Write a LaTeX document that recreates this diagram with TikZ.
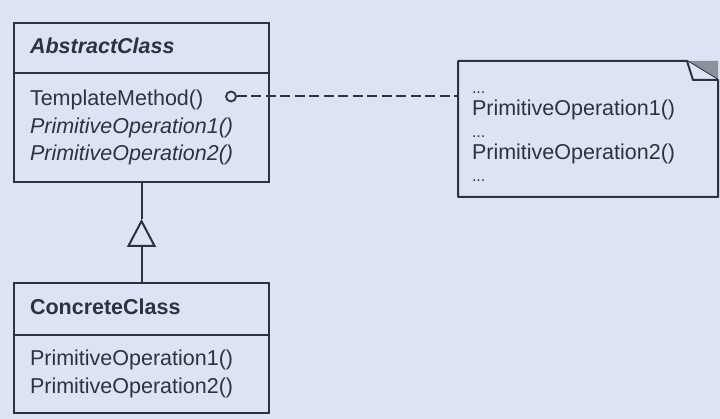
\documentclass[tikz,border=0pt]{standalone}
\usepackage{fontspec}
\setmainfont{Liberation Sans}
\usetikzlibrary{positioning,arrows.meta,calc}
\definecolor{paper}{RGB}{220,228,243}
\definecolor{ink}{RGB}{44,50,62}
\definecolor{foldgray}{RGB}{138,144,156}

\begin{document}
\begin{tikzpicture}[
  x=1pt,y=-1pt,
  font=\fontsize{21.5}{27.5}\selectfont,
  part/.style={draw=ink,text=ink,line width=2pt,outer sep=0pt,text width=223pt,inner xsep=16pt,align=left},
  head/.style={part,minimum height=50pt,text height=15.5pt,text depth=4pt},
  ops/.style={part,inner ysep=0pt},
  hook/.style={circle,draw=ink,line width=1.8pt,inner sep=0pt,minimum size=10pt},
  memo/.style={text=ink,outer sep=0pt,minimum height=136pt,text width=232pt,inner xsep=14pt,align=left,font=\fontsize{21.5}{22}\selectfont},
  edge/.style={draw=ink,line width=2pt},
  link/.style={edge,dash pattern=on 10pt off 4.5pt},
  gen/.style={edge,-{Triangle[open,length=28pt,width=29pt]}},
  >=Latex]
\useasboundingbox (0,0) rectangle (720,419);
\fill[paper] (0,0) rectangle (720,419);
% abstract class
\node[head,anchor=north west] (absname) at (14,23) {\textbf{\textit{AbstractClass}}};
\node[ops,minimum height=109pt,below=0pt of absname] (absops) {TemplateMethod()\\\textit{PrimitiveOperation1()}\\\textit{PrimitiveOperation2()}};
% concrete class
\node[head,minimum height=52pt,below=101pt of absops] (conname) {\textbf{ConcreteClass}};
\node[ops,minimum height=78pt,below=0pt of conname] (conops) {PrimitiveOperation1()\\PrimitiveOperation2()};
% note
\node[hook] (hook) at (231,96.5) {};
\node[memo,anchor=north west] (note) at (458,61) {\rule{0pt}{18pt}{\fontsize{16}{16}\selectfont...}\\PrimitiveOperation1()\\{\fontsize{16}{16}\selectfont...}\\PrimitiveOperation2()\\{\fontsize{16}{16}\selectfont...}};
\fill[foldgray] ($(note.north east)+(-31,0)$) -- (note.north east) -- ($(note.north east)+(0,19)$) -- cycle;
\draw[edge,line join=round] (note.north west) -- ($(note.north east)+(-31,0)$) -- ($(note.north east)+(0,19)$) -- (note.south east) -- (note.south west) -- cycle;
\draw[edge,fill=paper,line join=round] ($(note.north east)+(-31,0)$) -- ($(note.north east)+(-25,19)$) -- ($(note.north east)+(0,19)$);
% connectors
\coordinate (tip) at ($(absops.south)+(0,37)$);
\draw[link] (hook.east) -- (hook.east -| note.west);
\draw[gen] (conname.north) -- (tip);
\draw[edge] (tip) -- (absops.south);
\end{tikzpicture}
\end{document}
